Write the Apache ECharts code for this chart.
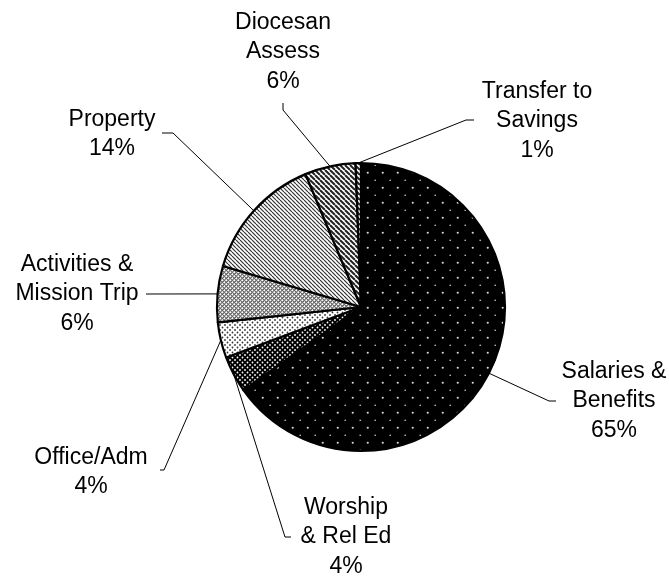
<!DOCTYPE html>
<html>
<head>
<meta charset="utf-8">
<script src="https://cdn.jsdelivr.net/npm/echarts@6/dist/echarts.min.js"></script>
<style>
  html, body { margin: 0; padding: 0; background: #fff; }
  #main { width: 669px; height: 576px; }
</style>
</head>
<body>
<div id="main"></div>
<script>
// ---- data (shares; labels show rounded percent) ----
var categories = ['Salaries &\nBenefits', 'Worship\n& Rel Ed', 'Office/Adm', 'Activities &\nMission Trip', 'Property', 'Diocesan\nAssess', 'Transfer to\nSavings'];
var values = [65.2, 4.1, 4.0, 6.3, 14.1, 5.7, 0.6];

// ---- label placement (layout only) ----
var labelCenters = [[614, 401], [346, 537], [91, 472], [77, 294], [112, 134], [283, 52], [537, 121]];
var leaderElbows = [
  [[549, 401], [556, 401]],
  [[285, 537], [291, 537]],
  [[164, 470], [160, 470]],
  [[146, 294]],
  [[173, 133], [162, 133]],
  [[283, 110], [283, 103]],
  [[466, 120], [474, 120]]
];

// ---- fill patterns ----
function makeCanvas(w, h, bg) {
  var c = document.createElement('canvas');
  c.width = w; c.height = h;
  var ctx = c.getContext('2d');
  ctx.fillStyle = bg; ctx.fillRect(0, 0, w, h);
  return { c: c, ctx: ctx };
}
function dots(bg, fg, size, r) {
  var o = makeCanvas(size, size, bg);
  o.ctx.fillStyle = fg;
  var h = size / 2;
  [[0, 0], [size, 0], [0, size], [size, size], [h, h]].forEach(function (p) {
    o.ctx.beginPath(); o.ctx.arc(p[0], p[1], r, 0, Math.PI * 2); o.ctx.fill();
  });
  return o.c;
}
function stripes(bg, fg, size, lw, dir) {
  var o = makeCanvas(size, size, bg);
  var ctx = o.ctx;
  ctx.strokeStyle = fg; ctx.lineWidth = lw;
  for (var k = -1; k <= 1; k++) {
    ctx.beginPath();
    if (dir === 'down') { ctx.moveTo(k * size, 0); ctx.lineTo(k * size + size, size); }
    else { ctx.moveTo(k * size, size); ctx.lineTo(k * size + size, 0); }
    ctx.stroke();
  }
  return o.c;
}
function crosshatch(bg, fg, size, lw) {
  var o = makeCanvas(size, size, bg);
  var ctx = o.ctx;
  ctx.strokeStyle = fg; ctx.lineWidth = lw;
  for (var k = -1; k <= 1; k++) {
    ctx.beginPath(); ctx.moveTo(k * size, 0); ctx.lineTo(k * size + size, size); ctx.stroke();
    ctx.beginPath(); ctx.moveTo(k * size, size); ctx.lineTo(k * size + size, 0); ctx.stroke();
  }
  return o.c;
}
var fills = [
  dots('#000000', '#d8d8d8', 15.5, 1.1),
  dots('#000000', '#ffffff', 5, 0.9),
  dots('#ffffff', '#333333', 5, 0.9),
  crosshatch('#ffffff', '#666666', 4.5, 1.1),
  stripes('#ffffff', '#333333', 4, 1.2, 'down'),
  stripes('#ffffff', '#222222', 5, 2, 'down'),
  stripes('#ffffff', '#222222', 5, 2, 'down')
];

var seriesData = categories.map(function (n, i) {
  return { name: n, value: values[i], itemStyle: { color: { image: fills[i], repeat: 'repeat' } } };
});

var chart = echarts.init(document.getElementById('main'), null, { renderer: 'canvas' });
chart.setOption({
  backgroundColor: '#ffffff',
  animation: false,
  series: [{
    type: 'pie',
    center: [361, 307],
    radius: [0, 144],
    startAngle: 90,
    clockwise: true,
    avoidLabelOverlap: false,
    data: seriesData,
    itemStyle: { borderColor: '#000000', borderWidth: 2.2 },
    label: {
      show: true,
      color: '#000000',
      fontFamily: 'Liberation Sans, Arial, sans-serif',
      fontSize: 23,
      lineHeight: 29.5,
      align: 'center',
      formatter: function (p) { return p.name + '\n' + Math.round(p.percent) + '%'; }
    },
    labelLine: { show: true, lineStyle: { color: '#000000', width: 1 }, length: 20, length2: 10 },
    labelLayout: function (params) {
      var i = params.dataIndex;
      var anchor = params.labelLinePoints ? params.labelLinePoints[0] : null;
      var out = {
        x: labelCenters[i][0],
        y: labelCenters[i][1],
        align: 'center',
        verticalAlign: 'middle'
      };
      if (anchor) {
        var el = leaderElbows[i];
        out.labelLinePoints = [anchor].concat(el.length === 1 ? [el[0], el[0]] : el);
      }
      return out;
    }
  }]
});
</script>
</body>
</html>
